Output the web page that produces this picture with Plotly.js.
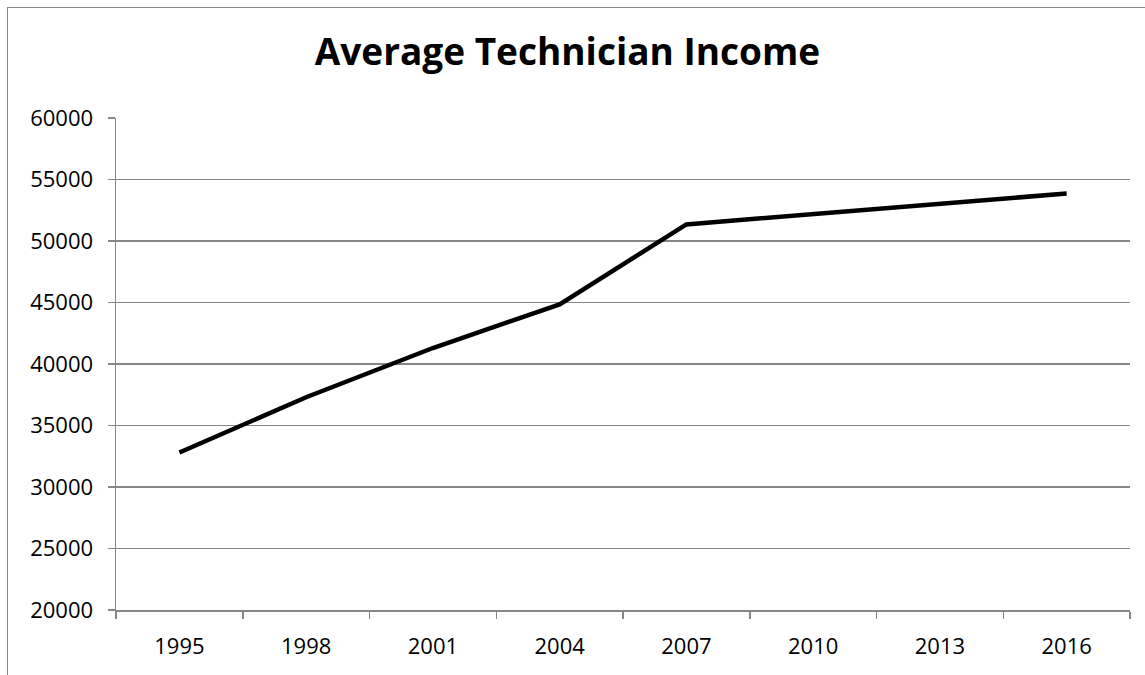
<!DOCTYPE html>
<html>
<head>
<meta charset="utf-8">
<script src="https://cdn.plot.ly/plotly-3.0.1.min.js"></script>
<style>
  html, body { margin: 0; padding: 0; background: #fff; }
  #wrap { position: relative; width: 1145px; height: 675px; overflow: hidden; }
  #chart { width: 1145px; height: 675px; }
  #frame { position: absolute; left: 7px; top: 7px; width: 1200px; height: 700px;
           border-left: 1.5px solid #868686; border-top: 1.5px solid #868686; pointer-events: none; }
</style>
</head>
<body>
<div id="wrap">
  <div id="chart"></div>
  <div id="frame"></div>
</div>
<script>
const years = ['1995', '1998', '2001', '2004', '2007', '2010', '2013', '2016'];
const income = [32800, 37300, 41300, 44850, 51350, 52200, 53030, 53860];
const yTicks = [20000, 25000, 30000, 35000, 40000, 45000, 50000, 55000, 60000];
const chartTitle = 'Average Technician Income';

const FONT = '"Open Sans", "Noto Sans", sans-serif';
const GRID = '#868686';

const trace = {
  x: years,
  y: income,
  type: 'scatter',
  mode: 'lines',
  line: { color: '#000000', width: 4.5 },
  hoverinfo: 'skip'
};

const layout = {
  width: 1145,
  height: 675,
  margin: { l: 116, r: 15, t: 118, b: 65 },
  paper_bgcolor: '#ffffff',
  plot_bgcolor: '#ffffff',
  showlegend: false,
  title: {
    text: '<b>' + chartTitle + '</b>',
    font: { family: FONT, size: 37, color: '#000000' },
    xref: 'container', yref: 'container',
    x: 0.4956, xanchor: 'center',
    y: 1 - 52 / 675, yanchor: 'middle'
  },
  xaxis: {
    type: 'category',
    range: [-0.5, years.length - 0.5],
    tickvals: years,
    ticktext: years,
    tickson: 'boundaries',
    ticks: 'outside',
    ticklen: 7,
    tickcolor: GRID,
    tickwidth: 1.5,
    showline: true,
    linecolor: GRID,
    linewidth: 1.5,
    showgrid: false,
    zeroline: false,
    ticklabelstandoff: 16,
    tickfont: { family: FONT, size: 22, color: '#000000' },
    fixedrange: true
  },
  yaxis: {
    range: [20000, 60000],
    tickvals: yTicks,
    ticktext: yTicks.map(String),
    ticks: 'outside',
    ticklen: 7,
    tickcolor: GRID,
    tickwidth: 1.5,
    showline: true,
    linecolor: GRID,
    linewidth: 1.5,
    showgrid: true,
    gridcolor: GRID,
    gridwidth: 1.5,
    zeroline: false,
    ticklabelstandoff: 10,
    tickfont: { family: FONT, size: 22, color: '#000000' },
    fixedrange: true
  }
};

Plotly.newPlot('chart', [trace], layout, { staticPlot: true, displayModeBar: false });
</script>
</body>
</html>
